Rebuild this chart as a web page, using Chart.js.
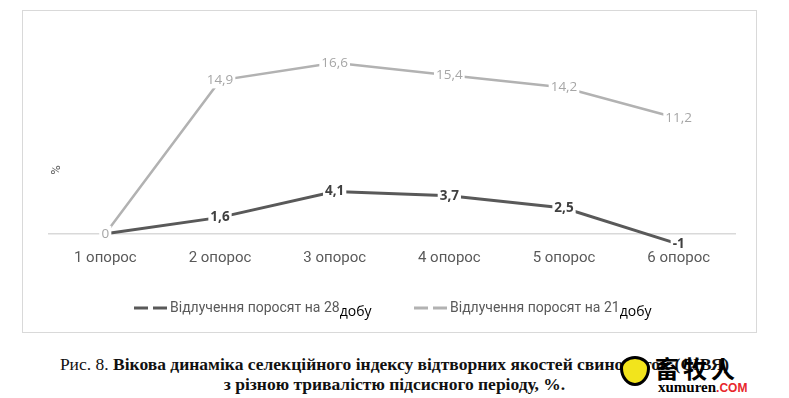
<!DOCTYPE html>
<html>
<head>
<meta charset="utf-8">
<script src="https://cdn.jsdelivr.net/npm/chart.js@4.4.0/dist/chart.umd.min.js"></script>
<style>
  body { margin: 0; background: #fff; width: 789px; height: 398px; overflow: hidden; position: relative; }
  #wrap { position: absolute; left: 0; top: 0; width: 789px; height: 345px; }
  #box { position: absolute; left: 22px; top: 10px; width: 735px; height: 323px; border: 1.5px solid #d9d9d9; box-sizing: border-box; }
  .cap { position: absolute; left: 0; width: 789px; text-align: center; font-family: "Liberation Serif", serif; font-size: 17.5px; color: #111; white-space: nowrap; }
  .cap b { font-weight: bold; }
  #wm1 { position: absolute; left: 655px; top: 350px; font-family: "Noto Sans CJK SC", sans-serif; font-size: 24px; font-weight: bold; letter-spacing: 4px; color: #000; }
  #wm2 { position: absolute; left: 658px; top: 379px; font-family: "Liberation Serif", serif; font-size: 15px; font-weight: bold; color: #000; }
  #wm2 span { color: #e8262b; font-family: "Liberation Sans", sans-serif; font-size: 12px; }
  #heart { position: absolute; left: 620px; top: 356px; width: 30px; height: 30px; border: 3px solid #000; border-radius: 50% 50% 50% 50% / 40% 40% 60% 60%; background: #f2e41c; box-sizing: border-box; }
</style>
</head>
<body>
<div id="box"></div>
<div id="wrap"><canvas id="chart" width="789" height="345"></canvas></div>
<div class="cap" style="top:354px">Рис. 8. <b>Вікова динаміка селекційного індексу відтворних якостей свиноматок (СІВЯ)</b></div>
<div class="cap" style="top:374px"><b>з різною тривалістю підсисного періоду, %.</b></div>
<div id="heart"></div>
<div id="wm1">畜牧人</div>
<div id="wm2">xumuren<span>.COM</span></div>
<script>
// Дані графіка
const categories = ['1 опорос', '2 опорос', '3 опорос', '4 опорос', '5 опорос', '6 опорос'];
const weaning28 = [0, 1.6, 4.1, 3.7, 2.5, -1];
const weaning21 = [0, 14.9, 16.6, 15.4, 14.2, 11.2];
const seriesNames = ['Відлучення поросят на 28', 'Відлучення поросят на 21'];
const legendSuffix = 'добу';

const darkColor = '#595959';
const lightColor = '#b2b2b2';

// Підписи значень по центру точки з білим фоном
const valueLabels = {
    id: 'valueLabels',
    afterDatasetsDraw(chart) {
        const ctx = chart.ctx;
        chart.data.datasets.forEach((ds, i) => {
            const meta = chart.getDatasetMeta(i);
            ctx.save();
            ctx.font = (i === 0 ? 'bold ' : '') + '13.5px "Open Sans"';
            ctx.textAlign = 'center';
            ctx.textBaseline = 'middle';
            meta.data.forEach((pt, j) => {
                const txt = String(ds.data[j]).replace('.', ',');
                const w = ctx.measureText(txt).width;
                ctx.fillStyle = '#fff';
                ctx.fillRect(pt.x - w / 2 - 2, pt.y - 8, w + 4, 16);
                ctx.fillStyle = i === 0 ? '#404040' : '#a6a6a6';
                ctx.fillText(txt, pt.x, pt.y);
            });
            ctx.restore();
        });
    }
};

// Легенда та підпис осі
const customLegend = {
    id: 'customLegend',
    afterDraw(chart) {
        const ctx = chart.ctx;
        ctx.save();
        ctx.translate(57, 170);
        ctx.rotate(-Math.PI / 2);
        ctx.font = '13px Roboto';
        ctx.fillStyle = darkColor;
        ctx.textAlign = 'center';
        ctx.textBaseline = 'middle';
        ctx.fillText('%', 0, 0);
        ctx.restore();

        const starts = [134, 414];
        chart.data.datasets.forEach((ds, i) => {
            const x = starts[i];
            const y = 308;
            ctx.save();
            ctx.strokeStyle = ds.borderColor;
            ctx.lineWidth = 3;
            ctx.setLineDash([14, 5]);
            ctx.beginPath();
            ctx.moveTo(x, y);
            ctx.lineTo(x + 33, y);
            ctx.stroke();
            ctx.setLineDash([]);
            ctx.font = '14px Roboto';
            ctx.fillStyle = darkColor;
            ctx.textBaseline = 'middle';
            ctx.fillText(ds.label, x + 36, y);
            const w = ctx.measureText(ds.label).width;
            ctx.font = '14px "Open Sans"';
            ctx.fillStyle = '#000';
            ctx.fillText(legendSuffix, x + 36 + w, y + 4);
            ctx.restore();
        });
    }
};

new Chart(document.getElementById('chart').getContext('2d'), {
    type: 'line',
    data: {
        labels: categories,
        datasets: [{
            label: seriesNames[0],
            data: weaning28,
            borderColor: darkColor,
            borderWidth: 3,
            pointRadius: 0,
            tension: 0,
            clip: false
        }, {
            label: seriesNames[1],
            data: weaning21,
            borderColor: lightColor,
            borderWidth: 2.5,
            pointRadius: 0,
            tension: 0,
            clip: false
        }]
    },
    options: {
        responsive: false,
        animation: false,
        layout: { padding: { left: 48, right: 53, top: 33, bottom: 76 } },
        plugins: {
            legend: { display: false },
            tooltip: { enabled: false }
        },
        scales: {
            x: {
                offset: true,
                grid: { display: false },
                border: { display: false },
                ticks: {
                    color: darkColor,
                    padding: 2,
                    font: { family: 'Roboto', size: 15 }
                }
            },
            y: {
                min: -0.5,
                max: 19.5,
                afterFit(scale) { scale.width = 0; },
                afterBuildTicks(scale) { scale.ticks = [{ value: 0 }]; },
                border: { display: false },
                grid: {
                    drawTicks: false,
                    color: '#d9d9d9',
                    lineWidth: 1.5
                },
                ticks: { display: false }
            }
        }
    },
    plugins: [valueLabels, customLegend]
});
</script>
</body>
</html>
